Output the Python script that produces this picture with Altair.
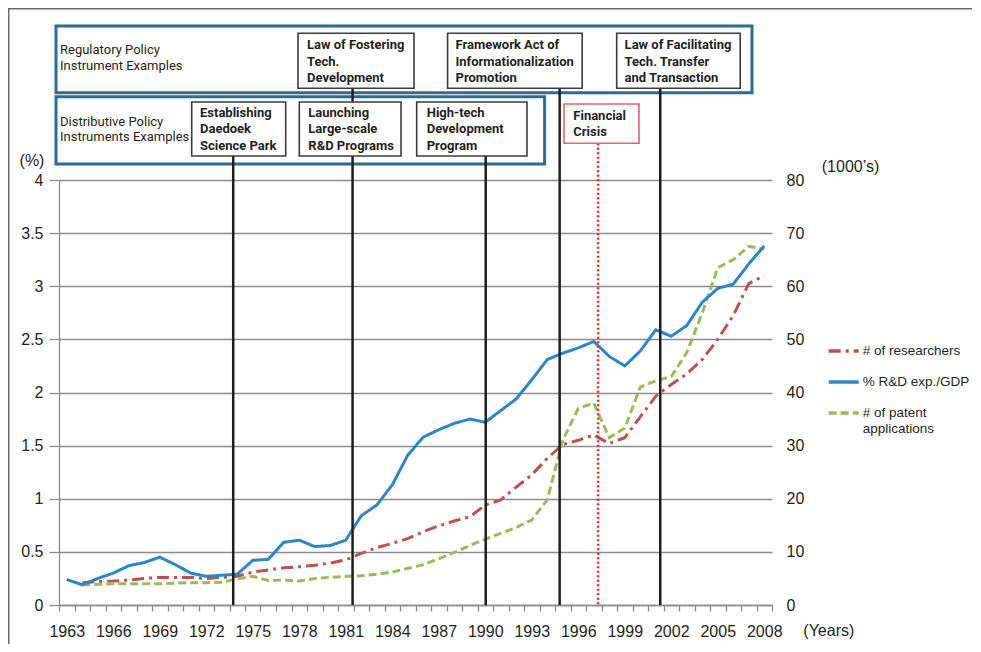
import altair as alt
import pandas as pd

# ---------------- data ----------------
years = list(range(1963, 2009))
rd_gdp_pct = [0.24, 0.19, 0.25, 0.30, 0.37, 0.40, 0.45, 0.38, 0.30, 0.27,
              0.28, 0.29, 0.42, 0.43, 0.59, 0.61, 0.55, 0.56, 0.61, 0.84,
              0.94, 1.13, 1.41, 1.58, 1.65, 1.71, 1.75, 1.72, 1.83, 1.94,
              2.12, 2.31, 2.37, 2.42, 2.48, 2.34, 2.25, 2.39, 2.59, 2.53,
              2.63, 2.85, 2.98, 3.02, 3.21, 3.38]

count_years = list(range(1964, 2009))
researchers_k = [4.2, 4.4, 4.5, 4.7, 5.0, 5.2, 5.2, 5.2, 5.0, 5.2,
                 5.4, 6.2, 6.6, 7.0, 7.2, 7.5, 7.9, 8.5, 9.7, 10.8,
                 11.6, 12.5, 13.8, 14.9, 15.8, 16.6, 18.8, 19.8, 22.2, 24.5,
                 27.6, 30.2, 31.0, 32.0, 30.4, 31.5, 35.4, 39.3, 41.5, 43.5,
                 46.2, 50.0, 54.5, 60.5, 62.0]
patents_k = [3.8, 3.9, 4.0, 4.0, 4.0, 4.0, 4.1, 4.2, 4.2, 4.3,
             4.9, 5.4, 4.6, 4.7, 4.5, 5.0, 5.2, 5.4, 5.5, 5.8,
             6.2, 6.9, 7.6, 8.7, 9.9, 11.2, 12.4, 13.5, 14.6, 16.0,
             19.8, 31.0, 37.0, 38.0, 31.5, 33.3, 41.0, 42.2, 43.0, 47.5,
             55.0, 63.5, 65.0, 67.5, 67.0]

series_names = ["# of researchers", "% R&D exp./GDP", "# of patent applications"]
year_labels = list(range(1963, 2009, 3))
left_ticks = [0, 0.5, 1, 1.5, 2, 2.5, 3, 3.5, 4]
right_ticks = [0, 10, 20, 30, 40, 50, 60, 70, 80]

# policy events (year position of each vertical line)
event_years = [1973.74, 1981.44, 1990.03, 1994.8, 2001.29]
crisis_year = [1997.28]

regulatory_boxes = [["Law of Fostering", "Tech.", "Development"],
                    ["Framework Act of", "Informationalization", "Promotion"],
                    ["Law of Facilitating", "Tech. Transfer", "and Transaction"]]
distributive_boxes = [["Establishing", "Daedoek", "Science Park"],
                      ["Launching", "Large-scale", "R&D Programs"],
                      ["High-tech", "Development", "Program"]]
crisis_box = ["Financial", "Crisis"]
row_titles = [["Regulatory Policy", "Instrument Examples"],
              ["Distributive Policy", "Instruments Examples"]]

# ---------------- layout / style (pixels, plot coordinates) ----------------
W, H = 713, 425
PAD = {"left": 51, "top": 172, "right": 200, "bottom": 39}
TXT = "#231f20"
GRID = "#8c8c8c"
COLORS = ["#c0504d", "#2a87c8", "#9bbb59"]
DASHES = [[12, 5, 3, 5], [1, 0], [8, 4]]
AXFONT = "Liberation Sans, Arial, Helvetica, sans-serif"
BOXFONT = "Roboto, Liberation Sans, Arial, sans-serif"

outer_x = [(-3, 693), (-3, 485.6)]
outer_y = [(-154, -87.3), (-83.3, -16)]
reg_x = [(239, 355), (388.6, 523.2), (557.7, 681.2)]
reg_y = (-146.7, -91.7)
dis_x = [(132.7, 226.7), (240.3, 342), (357.7, 468)]
dis_y = (-78, -24)
crisis_xy = (505, 580, -76, -36.7)
event_top = [dis_y[1], reg_y[1], dis_y[1], reg_y[1], reg_y[1]]
reg_text_x = [248, 396.5, 565.6]
reg_text_y = [-135, -118.5, -102.5]
dis_text_x = [141, 249.3, 367.7]
dis_text_y = [-67.3, -50.7, -34.3]
crisis_text = (514.3, [-64, -48.3])
row_title_x = 1
row_title_y = [[-130, -114], [-58.3, -42.7]]

# ---------------- tables ----------------
df_rd = pd.DataFrame({"year": years, "value": rd_gdp_pct, "series": series_names[1]})
df_counts = pd.concat([
    pd.DataFrame({"year": count_years, "value": researchers_k, "series": series_names[0]}),
    pd.DataFrame({"year": count_years, "value": patents_k, "series": series_names[2]}),
], ignore_index=True)

df_events = pd.DataFrame({"year": event_years, "top": event_top, "bottom": H})
df_crisis = pd.DataFrame({"year": crisis_year, "top": crisis_xy[3], "bottom": H})

df_outer = pd.DataFrame({"x0": [a for a, b in outer_x], "x1": [b for a, b in outer_x],
                         "y0": [a for a, b in outer_y], "y1": [b for a, b in outer_y]})
inner_rows = []
for (a, b) in reg_x:
    inner_rows.append({"x0": a, "x1": b, "y0": reg_y[0], "y1": reg_y[1]})
for (a, b) in dis_x:
    inner_rows.append({"x0": a, "x1": b, "y0": dis_y[0], "y1": dis_y[1]})
df_inner = pd.DataFrame(inner_rows)
df_cbox = pd.DataFrame([{"x0": crisis_xy[0], "x1": crisis_xy[1], "y0": crisis_xy[2], "y1": crisis_xy[3]}])

bold_rows = []
for lines, x in zip(regulatory_boxes, reg_text_x):
    for t, y in zip(lines, reg_text_y):
        bold_rows.append({"x": x, "y": y, "label": t})
for lines, x in zip(distributive_boxes, dis_text_x):
    for t, y in zip(lines, dis_text_y):
        bold_rows.append({"x": x, "y": y, "label": t})
for t, y in zip(crisis_box, crisis_text[1]):
    bold_rows.append({"x": crisis_text[0], "y": y, "label": t})
df_bold = pd.DataFrame(bold_rows)

reg_rows = []
for lines, ys in zip(row_titles, row_title_y):
    for t, y in zip(lines, ys):
        reg_rows.append({"x": row_title_x, "y": y, "label": t})
df_reg = pd.DataFrame(reg_rows)

# ---------------- encodings ----------------
xscale = alt.Scale(domain=[1962.5, 2008.5], nice=False, zero=False)

legend = alt.Legend(orient="none", legendX=767.7, legendY=154, title=None,
                    symbolType="stroke", symbolSize=900, symbolStrokeWidth=3.5,
                    labelFont=AXFONT, labelFontSize=13.5, labelColor=TXT, labelOffset=2,
                    rowPadding=7, padding=0, labelLimit=300,
                    labelExpr="datum.label == '# of patent applications' ? ['# of patent', 'applications'] : datum.label")
color = alt.Color("series:N", scale=alt.Scale(domain=series_names, range=COLORS), legend=legend)
dash = alt.StrokeDash("series:N", scale=alt.Scale(domain=series_names, range=DASHES), legend=legend)

label_axis = alt.Axis(orient="bottom", values=year_labels, format="d", ticks=False, domain=False,
                      grid=False, labelFont=AXFONT, labelFontSize=16, labelColor=TXT,
                      labelPadding=18, labelFlush=False, labelOverlap=False,
                      title="(Years)", titleFont=AXFONT, titleFontSize=16, titleFontWeight="normal",
                      titleColor=TXT, titleX=769.3, titleY=25, titleAlign="center",
                      titleBaseline="middle", titleAngle=0)
tick_axis = alt.Axis(orient="bottom", values=[1962.5 + i for i in range(47)], labels=False,
                     ticks=True, tickSize=6, tickColor=GRID, tickWidth=1.3,
                     domain=True, domainColor=GRID, domainWidth=1.3, grid=False, title=None)
left_axis = alt.Axis(orient="left", values=left_ticks, format="~g", grid=True, gridColor=GRID,
                     gridWidth=1.3, tickSize=10, tickColor=GRID, tickWidth=1.3,
                     domain=True, domainColor=GRID, domainWidth=1.3,
                     labelFont=AXFONT, labelFontSize=16, labelColor=TXT, labelPadding=6,
                     title="(%)", titleFont=AXFONT, titleFontSize=16, titleFontWeight="normal",
                     titleColor=TXT, titleAngle=0, titleX=-27.5, titleY=-20,
                     titleAlign="center", titleBaseline="middle")
right_axis = alt.Axis(orient="right", values=right_ticks, format="d", grid=False, ticks=False,
                      domain=False, labelFont=AXFONT, labelFontSize=16, labelColor=TXT,
                      labelPadding=14, labelAlign="left",
                      title="(1000\u2019s)", titleFont=AXFONT, titleFontSize=16,
                      titleFontWeight="normal", titleColor=TXT, titleAngle=0,
                      titleX=78, titleY=-13.3, titleAlign="center", titleBaseline="middle")

px = lambda f: alt.X(f, scale=None, axis=None)
py = lambda f: alt.Y(f, scale=None, axis=None)

# ---------------- layers ----------------
border_left = alt.Chart(pd.DataFrame({"k": [0]})).mark_rule(color="#6a6a6a", strokeWidth=1.5).encode(
    x=alt.value(-50.25), y=alt.value(-PAD["top"]), y2=alt.value(H + PAD["bottom"]))
border_top = alt.Chart(pd.DataFrame({"k": [0]})).mark_rule(color="#6a6a6a", strokeWidth=1.5).encode(
    x=alt.value(-PAD["left"]), x2=alt.value(W + PAD["right"]), y=alt.value(-171.25))

outer = alt.Chart(df_outer).mark_rect(fill=None, stroke="#2e6a94", strokeWidth=3).encode(
    x=px("x0:Q"), x2="x1:Q", y=py("y0:Q"), y2="y1:Q")

counts = alt.Chart(df_counts).mark_line(strokeWidth=3).encode(
    x=alt.X("year:Q", scale=xscale, axis=tick_axis),
    y=alt.Y("value:Q", scale=alt.Scale(domain=[0, 80], nice=False), axis=right_axis),
    color=color, strokeDash=dash, detail="series:N")

rd = alt.Chart(df_rd).mark_line(strokeWidth=3).encode(
    x=alt.X("year:Q", scale=xscale, axis=label_axis),
    y=alt.Y("value:Q", scale=alt.Scale(domain=[0, 4], nice=False), axis=left_axis),
    color=color, strokeDash=dash)

events = alt.Chart(df_events).mark_rule(color="#1e1e1e", strokeWidth=2.5).encode(
    x=alt.X("year:Q", scale=xscale, axis=None), y=py("top:Q"), y2="bottom:Q")
crisis = alt.Chart(df_crisis).mark_rule(color="#ff2020", strokeWidth=2.5, strokeDash=[2, 2.5]).encode(
    x=alt.X("year:Q", scale=xscale, axis=None), y=py("top:Q"), y2="bottom:Q")

inner = alt.Chart(df_inner).mark_rect(fill="white", stroke="#3c3c3c", strokeWidth=1.6).encode(
    x=px("x0:Q"), x2="x1:Q", y=py("y0:Q"), y2="y1:Q")
cbox = alt.Chart(df_cbox).mark_rect(fill="white", stroke="#f06060", strokeWidth=1.6).encode(
    x=px("x0:Q"), x2="x1:Q", y=py("y0:Q"), y2="y1:Q")

bold_text = alt.Chart(df_bold).mark_text(align="left", baseline="middle", font=BOXFONT,
                                         fontSize=13, fontWeight="bold", color=TXT).encode(
    x=px("x:Q"), y=py("y:Q"), text="label:N")
reg_text = alt.Chart(df_reg).mark_text(align="left", baseline="middle", font=BOXFONT,
                                       fontSize=13, color=TXT).encode(
    x=px("x:Q"), y=py("y:Q"), text="label:N")

chart = alt.layer(border_left, border_top, outer, counts, rd, events, crisis, inner, cbox,
                  bold_text, reg_text).resolve_scale(x="independent", y="independent").properties(
    width=W, height=H, padding=PAD, autosize=alt.AutoSizeParams(type="none"),
    background="white").configure_view(stroke=None)

chart.save("out.html", embed_options={"renderer": "svg", "actions": False})
